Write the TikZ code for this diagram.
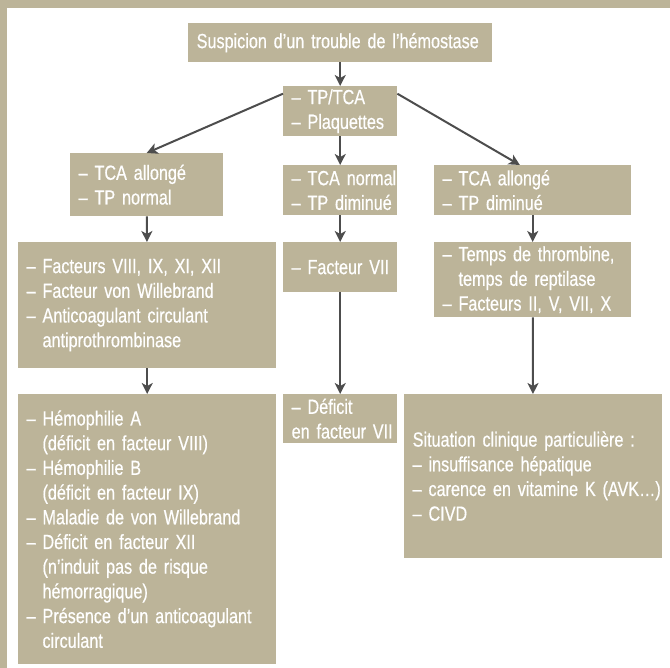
\documentclass[tikz,border=0pt]{standalone}
\usepackage{fontspec}
\setmainfont[FakeStretch=0.79, FakeBold=0.5]{Liberation Sans}
\usetikzlibrary{arrows.meta, positioning}
\definecolor{kaki}{RGB}{188,180,153}
\definecolor{fleche}{RGB}{77,77,77}
\newcommand{\ret}{\hphantom{–\ }}

\begin{document}
\begin{tikzpicture}[
    x=1pt, y=-1pt,
    boite/.style = {rectangle, fill=kaki, text=white, anchor=north west,
      inner xsep=8.5pt, inner ysep=2pt, align=left,
      execute at begin node={\rightskip=-8pt plus 1fil\relax}},
    pil/.style = {fleche, line width=2pt, -{Stealth[length=11pt, width=11pt, inset=3pt]}},
    font=\fontsize{20.5}{24.7}\selectfont
    ]

  \useasboundingbox (0,0) rectangle (670,668);
  \fill[kaki] (0,0) rectangle (670,8.5);
  \fill[kaki] (0,0) rectangle (7,668);

  \node[boite, align=center, text width=304pt-17pt, minimum height=39pt] (suspicion) at (188,23) {Suspicion d’un trouble de l’hémostase} ;
  \node[boite, text width=114pt-17pt, minimum height=50pt] (tp) at (283,86) {– TP/TCA\\– Plaquettes} ;

  \node[boite, text width=153pt-17pt, minimum height=63pt] (tcaA) at (70,153) {– TCA allongé\\– TP normal} ;
  \node[boite, text width=114pt-17pt, minimum height=50pt] (tcaB) at (283,165) {– TCA normal\\– TP diminué} ;
  \node[boite, text width=197pt-17pt, minimum height=50pt] (tcaC) at (434,165) {– TCA allongé\\– TP diminué} ;

  \node[boite, text width=258pt-17pt, minimum height=126pt] (facA) at (18,242) {– Facteurs VIII, IX, XI, XII\\– Facteur von Willebrand\\– Anticoagulant circulant\\\ret antiprothrombinase} ;
  \node[boite, text width=114pt-17pt, minimum height=50pt] (facB) at (283,242) {– Facteur VII} ;
  \node[boite, text width=197pt-17pt, minimum height=75pt] (facC) at (434,242) {– Temps de thrombine,\\\ret temps de reptilase\\– Facteurs II, V, VII, X} ;

  \node[boite, text width=258pt-17pt, minimum height=270pt] (malA) at (18,394) {– Hémophilie A\\\ret (déficit en facteur VIII)\\– Hémophilie B\\\ret (déficit en facteur IX)\\– Maladie de von Willebrand\\– Déficit en facteur XII\\\ret (n’induit pas de risque\\\ret hémorragique)\\– Présence d’un anticoagulant\\\ret circulant} ;
  \node[boite, text width=114pt-17pt, minimum height=49pt] (malB) at (283,394) {– Déficit\\en facteur VII} ;
  \node[boite, text width=258pt-17pt, minimum height=164pt] (malC) at (404,394) {Situation clinique particulière :\\– insuffisance hépatique\\– carence~en~vitamine~K~(AVK\dots)\\– CIVD} ;

  \path[pil]
  (suspicion) edge (tp)
  (tp.163) edge (tcaA.north)
  (tp) edge (tcaB)
  (tp.17) edge (tcaC.117)

  (tcaA) edge (facA)
  (tcaB) edge (facB)
  (tcaC) edge (facC)

  (facA) edge (malA)
  (facB) edge (malB)
  (facC) edge (malC) ;

\end{tikzpicture}
\end{document}
